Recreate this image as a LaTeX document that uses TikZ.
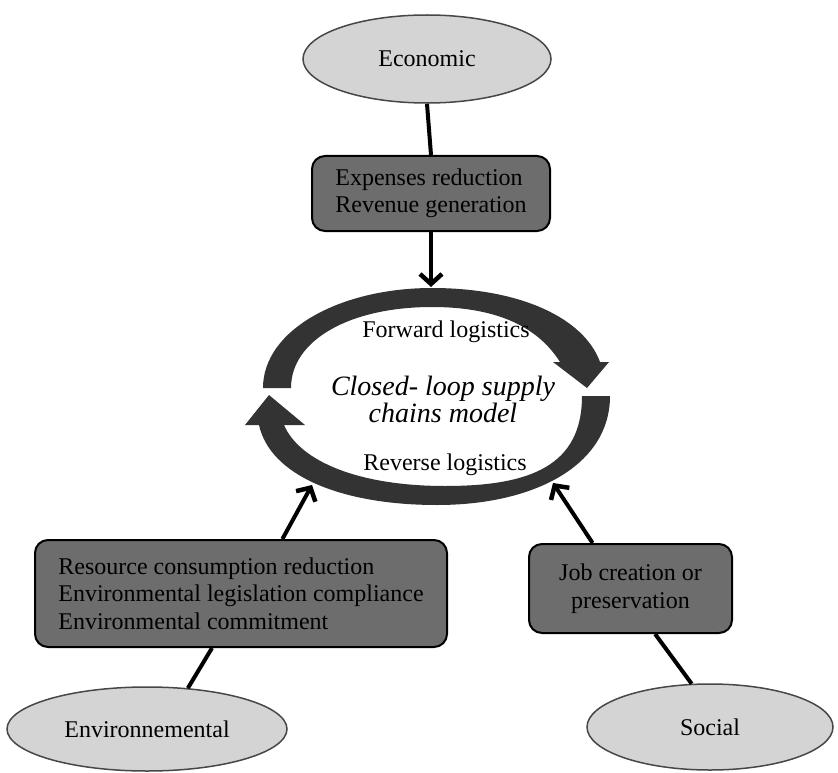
\documentclass[tikz,border=0pt]{standalone}
\usepackage{fontspec}
\setmainfont{Liberation Serif}[ItalicFont={Liberation Serif Italic}]
\usetikzlibrary{shapes.geometric,arrows.meta,calc}

\definecolor{pillarfill}{HTML}{D4D4D4}
\definecolor{pillarline}{HTML}{474747}
\definecolor{driverfill}{HTML}{6D6D6D}
\definecolor{loopfill}{HTML}{333333}

\tikzset{
  pillar/.style={ellipse, draw=pillarline, fill=pillarfill, line width=1.5pt,
    inner sep=0pt, font=\fontsize{24}{27.5}\selectfont},
  driver/.style={draw=black, fill=driverfill, line width=2pt, rounded corners=13pt,
    inner sep=0pt, font=\fontsize{24}{27.5}\selectfont},
  link/.style={line width=4pt, black},
  push/.style={link, -{Straight Barb[length=10pt,width=22pt,line width=4.5pt]}},
  looparrow/.style={fill=loopfill},
  looplabel/.style={font=\fontsize{24}{27.5}\selectfont},
}

\begin{document}
% coordinates are in points measured from the top-left corner, y pointing down
\begin{tikzpicture}[x=1pt,y=-1pt]
\useasboundingbox (0,0) rectangle (838,773);

% three pillars
\node[pillar, minimum width=248, minimum height=88] (eco) at (427,59) {Economic};
\node[pillar, minimum width=280, minimum height=84] (envell) at (147,729) {Environnemental};
\node[pillar, minimum width=246, minimum height=86] (soc) at (710,727) {Social};

% drivers
\node[driver, minimum width=238, minimum height=75, align=left] (exp) at (431,193.5)
  {Expenses reduction\\Revenue generation};
\node[driver, minimum width=412, minimum height=107, align=left] (envbox) at (241,593.5)
  {Resource consumption reduction\\Environmental legislation compliance\\Environmental commitment};
\node[driver, minimum width=203, minimum height=89, align=center] (job) at (630.5,588.5)
  {Job creation or\\preservation};

% closed loop: forward arc over the top, reverse arc underneath
\fill[looparrow] (263,388) .. controls (263,330) and (340,288) .. (432,288)
  .. controls (520,288) and (584,318) .. (600,362)
  -- (609,362) -- (587,388) -- (553,362) -- (560,362)
  .. controls (536,324) and (492,307) .. (432,307)
  .. controls (350,307) and (291,340) .. (291,388) -- cycle;
\fill[looparrow] (610,396) .. controls (610,465) and (535,505) .. (437,505)
  .. controls (340,505) and (270,475) .. (259,425)
  -- (245,425) -- (269,395) -- (305,425) -- (284,425)
  .. controls (300,462) and (360,486) .. (445,486)
  .. controls (530,486) and (582,466) .. (582,396) -- cycle;

\node[looplabel] (fwd) at (446,332) {Forward logistics};
\node[looplabel] (rev) at (445,465) {Reverse logistics};
\node[font=\fontsize{28}{27}\selectfont\itshape, align=center] (model) at (443,399.5)
  {Closed- loop supply\\chains model};

% loop entry points
\coordinate (intop) at (431,287);
\coordinate (inleft) at (312,485);
\coordinate (inright) at (553,483);

% connectors
\draw[link] (eco.south) -- (exp.north);
\draw[push] (exp.south) -- (intop);
\draw[link] (envell.45) -- ($(envbox.south west)!0.43!(envbox.south east)$);
\draw[push] ($(envbox.north west)!0.6!(envbox.north east)$) -- (inleft);
\draw[link] (soc.113) -- ($(job.south west)!0.62!(job.south east)$);
\draw[push] ($(job.north west)!0.315!(job.north east)$) -- (inright);
\end{tikzpicture}
\end{document}
